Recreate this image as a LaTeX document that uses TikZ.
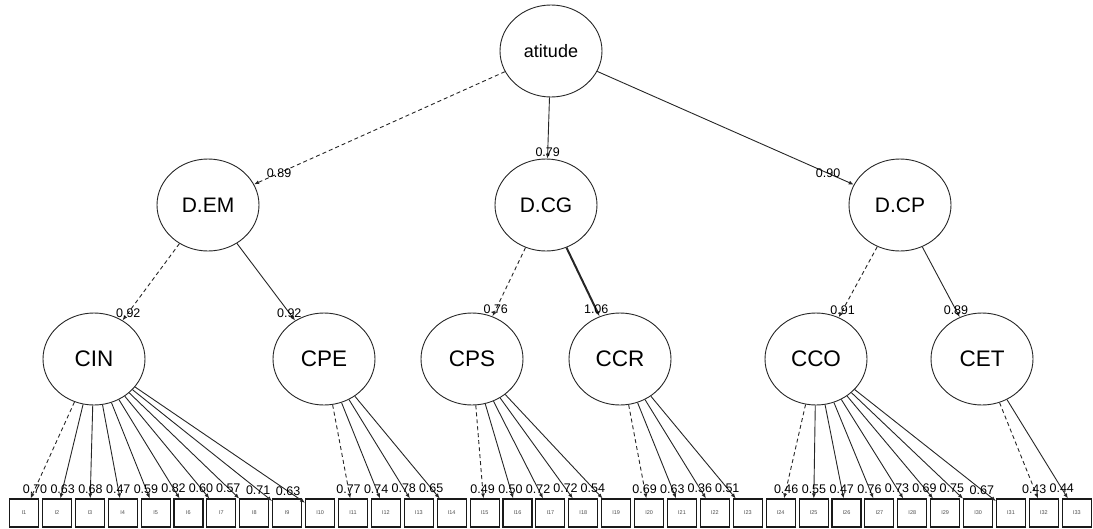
\documentclass[tikz,border=0pt]{standalone}
\usepackage{fontspec}
\setmainfont{Liberation Sans}
\usetikzlibrary{shapes.geometric,arrows.meta}

\tikzset{
  latent/.style={draw=black!85, line width=0.9pt, ellipse, minimum width=102pt,
    minimum height=92pt, inner sep=0pt},
  top/.style={latent, font=\fontsize{18}{18}\selectfont},
  mid/.style={latent, font=\fontsize{21}{21}\selectfont},
  low/.style={latent, font=\fontsize{22.5}{22.5}\selectfont},
  ind/.style={draw=black!90, line width=1.1pt, rectangle, minimum width=29pt,
    minimum height=28pt, inner sep=0pt, text=black!70,
    font=\fontsize{5.5}{5.5}\selectfont},
  path/.style={draw=black!85, line width=0.9pt,
    -{Latex[length=5pt,width=4pt]}},
  fixed/.style={dash pattern=on 4pt off 3pt},
  elab/.style={pos=0.9, inner sep=0pt, font=\fontsize{12.5}{12.5}\selectfont},
}

% one latent factor fanned out to its items; the first loading is fixed (dashed)
\newcommand\fanout[2]{%
  \foreach \j/\v [count=\k] in {#2} {
    \ifnum\k=1 \tikzset{ltype/.style={fixed}}\else\tikzset{ltype/.style={}}\fi
    \draw[path,ltype] (#1) -- (I\j) node[elab]{\v};
  }}

\begin{document}
\begin{tikzpicture}[x=1pt,y=-1pt]
\useasboundingbox (0,0) rectangle (1093,528);

% latent variables
\node[top] (att) at (551,51) {atitude};
\node[mid] (DEM) at (208,205) {D.EM};
\node[mid] (DCG) at (546,205) {D.CG};
\node[mid] (DCP) at (900,205) {D.CP};
\node[low] (CIN) at (94,359) {CIN};
\node[low] (CPE) at (324,359) {CPE};
\node[low] (CPS) at (472,359) {CPS};
\node[low] (CCR) at (620,359) {CCR};
\node[low] (CCO) at (816,359) {CCO};
\node[low] (CET) at (982,359) {CET};

% observed items
\foreach \i in {1,...,33}
  \node[ind] (I\i) at ({24+(\i-1)*32.9},513) {I\i};

% second-order loadings
\draw[path,fixed] (att) -- (DEM) node[elab]{0.89};
\draw[path] (att) -- (DCG) node[elab]{0.79};
\draw[path] (att) -- (DCP) node[elab]{0.90};

% first-order loadings
\draw[path,fixed] (DEM) -- (CIN) node[elab]{0.92};
\draw[path] (DEM) -- (CPE) node[elab]{0.92};
\draw[path,fixed] (DCG) -- (CPS) node[elab]{0.76};
\draw[path,line width=2pt] (DCG) -- (CCR) node[elab]{1.06};
\draw[path,fixed] (DCP) -- (CCO) node[elab]{0.91};
\draw[path] (DCP) -- (CET) node[elab]{0.89};

% item loadings
\fanout{CIN}{1/0.70,2/0.63,3/0.68,4/0.47,5/0.59,6/0.82,7/0.60,8/0.57,9/0.71,10/0.63}
\fanout{CPE}{11/0.77,12/0.74,13/0.78,14/0.65}
\fanout{CPS}{15/0.49,16/0.50,17/0.72,18/0.72,19/0.54}
\fanout{CCR}{20/0.69,21/0.63,22/0.36,23/0.51}
\fanout{CCO}{24/0.46,25/0.55,26/0.47,27/0.76,28/0.73,29/0.69,30/0.75,31/0.67}
\fanout{CET}{32/0.43,33/0.44}
\end{tikzpicture}
\end{document}
